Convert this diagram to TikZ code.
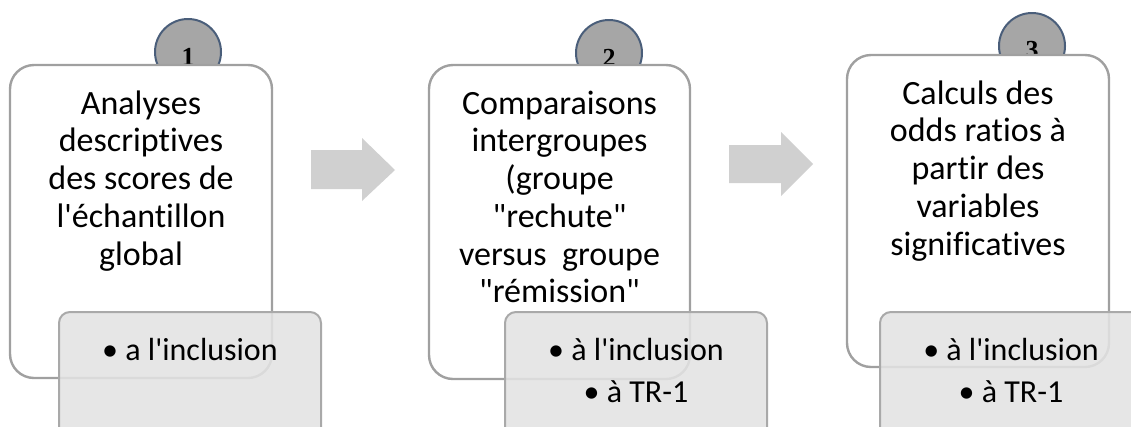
\documentclass[tikz,border=0pt]{standalone}
\usepackage{fontspec}
\setmainfont{Carlito}[Ligatures={TeXOff,CommonOff}]
\newfontfamily\numfont{Liberation Serif}[Ligatures=TeXOff]
\definecolor{cardline}{HTML}{A0A0A0}
\definecolor{subline}{HTML}{A9A9A9}
\definecolor{subfill}{HTML}{E3E3E3}
\definecolor{badgeline}{HTML}{4A5E7A}
\definecolor{badgefill}{HTML}{A6A6A6}
\definecolor{arrowfill}{HTML}{D0D0D0}
\begin{document}
\begin{tikzpicture}[x=1pt,y=-1pt,
  stepcard/.style={draw=cardline, line width=2.4pt, fill=white, rounded corners=24pt, inner sep=0pt},
  subcard/.style={draw=subline, line width=2pt, fill=subfill, fill opacity=0.88, rounded corners=11pt, inner sep=0pt},
  badge/.style={circle, draw=badgeline, line width=2pt, fill=badgefill, minimum size=66pt, inner sep=0pt},
  badgenum/.style={font=\numfont\bfseries\fontsize{26}{30}\selectfont, inner sep=0pt},
  maintext/.style={font=\fontsize{34}{37.75}\selectfont, align=center, anchor=north, inner sep=0pt},
  subtext/.style={font=\fontsize{32}{42}\selectfont, align=center, anchor=north, inner sep=0pt},
  blockarrow/.style={fill=arrowfill, draw=none}
]
\useasboundingbox (0,0) rectangle (1131,426);
\clip (0,0) rectangle (1131,426);

% badges (behind the cards)
\node[badge] (b1) at (188,52) {};
\node[badgenum] (n1) at (188,56.5) {1};
\node[badge] (b2) at (609,53) {};
\node[badgenum] (n2) at (609,57.5) {2};
\node[badge] (b3) at (1032,46) {};
\node[badgenum] (n3) at (1032,50.5) {3};

% main cards
\node[stepcard, minimum width=262pt, minimum height=313pt] (c1) at (141,221.5) {};
\node[stepcard, minimum width=261pt, minimum height=314pt] (c2) at (559.5,222) {};
\node[stepcard, minimum width=262pt, minimum height=312pt] (c3) at (978,211) {};

\node[maintext] (t1) at (141,87.6) {\strut Analyses\\descriptives\\des scores de\\l'échantillon\\global};
\node[maintext] (t2) at (559.5,87.6) {\strut Comparaisons\\intergroupes\\(groupe\\"rechute"\\versus~ groupe\\"rémission"};
\node[maintext] (t3) at (978,77.6) {\strut Calculs des\\odds ratios à\\partir des\\variables\\significatives};

% sub cards
\node[subcard, minimum width=262pt, minimum height=140pt] (s1) at (190,382) {};
\node[subcard, minimum width=262pt, minimum height=140pt] (s2) at (636,382) {};
\node[subcard, minimum width=262pt, minimum height=140pt] (s3) at (1011,382) {};

\node[subtext] (u1) at (190,330.6) {\strut • a l'inclusion};
\node[subtext] (u2) at (636,330.6) {\strut • à l'inclusion\\• à TR-1};
\node[subtext] (u3) at (1011,330.6) {\strut • à l'inclusion\\• à TR-1};

% block arrows
\fill[blockarrow] (311,150) -- (362,150) -- (362,138) -- (395,170) -- (362,201) -- (362,189) -- (311,189) -- cycle;
\fill[blockarrow] (729,145) -- (781,145) -- (781,132) -- (813,164) -- (781,196) -- (781,183) -- (729,183) -- cycle;
\end{tikzpicture}
\end{document}
